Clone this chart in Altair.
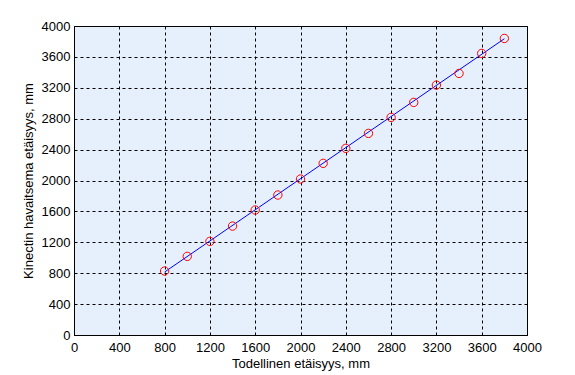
import altair as alt
import pandas as pd

true_dist = [800, 1000, 1200, 1400, 1600, 1800, 2000, 2200, 2400, 2600, 2800, 3000, 3200, 3400, 3600, 3800]
kinect_dist = [828, 1018, 1212, 1410, 1618, 1812, 2019, 2222, 2416, 2610, 2817, 3011, 3235, 3386, 3645, 3839]
fit_x = [800, 3800]
fit_y = [815, 3835]
ticks = [0, 400, 800, 1200, 1600, 2000, 2400, 2800, 3200, 3600, 4000]

pts = pd.DataFrame({"x": true_dist, "y": kinect_dist})
fit = pd.DataFrame({"x": fit_x, "y": fit_y})

xs = alt.Scale(domain=[0, 4000], nice=False, zero=False)
ys = alt.Scale(domain=[0, 4000], nice=False, zero=False)

axis_common = dict(
    values=ticks, grid=True, gridColor="black", gridDash=[3, 3], gridWidth=1,
    gridOpacity=1, domainColor="black", domainWidth=1, ticks=False,
    labelFont="Liberation Sans", labelFontSize=13, labelColor="black",
    labelOverlap=False, labelFlush=False, labelBound=False,
    titleFont="Liberation Sans", titleFontSize=13, titleFontWeight="normal",
    titleColor="black", format="d", tickCount=11,
)

xaxis = alt.Axis(title="Todellinen etäisyys, mm", labelPadding=6, titlePadding=3, **axis_common)
yaxis = alt.Axis(title="Kinectin havaitsema etäisyys, mm", labelPadding=4, titlePadding=6, **axis_common)

line = alt.Chart(fit).mark_line(color="#0000ff", strokeWidth=1).encode(
    x=alt.X("x:Q", scale=xs, axis=xaxis),
    y=alt.Y("y:Q", scale=ys, axis=yaxis),
)
points = alt.Chart(pts).mark_point(shape="circle", color="#ff0000", size=70, strokeWidth=1, filled=False, opacity=1).encode(
    x=alt.X("x:Q", scale=xs, axis=xaxis),
    y=alt.Y("y:Q", scale=ys, axis=yaxis),
)

chart = (line + points).properties(
    width=453, height=309,
    autosize=alt.AutoSizeParams(type="none"),
    padding={"left": 66, "top": 18, "right": 40, "bottom": 40},
).configure(
    background="white",
    view=alt.ViewConfig(fill="#e6f0fc", stroke="black", strokeWidth=1),
)

chart.save("out.html", embed_options={"renderer": "svg", "actions": False})
